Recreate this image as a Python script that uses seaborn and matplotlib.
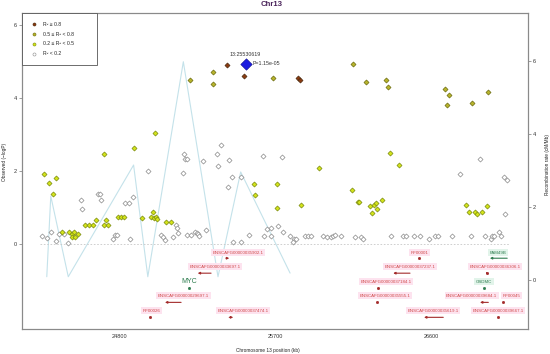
import numpy as np
import pandas as pd
import seaborn as sns
import matplotlib.pyplot as plt
from matplotlib.lines import Line2D

# --- SNP data: position (kb) and observed -log10(P), split by LD (R^2) class ---
pos_r08 = [25425, 25519, 25833, 25844]
logp_r08 = [4.90, 4.61, 4.54, 4.49]

pos_r05 = [25341, 25344, 25210, 25690, 26152, 26227, 26339, 26352,
           26681, 26706, 26690, 26838, 26930]
logp_r05 = [4.70, 4.39, 4.49, 4.54, 4.93, 4.43, 4.50, 4.30,
            4.25, 4.08, 3.82, 3.87, 4.16]

pos_r02 = [24369, 24398, 24434, 24417, 24715, 24885, 25008,
           24472, 24512, 24527, 24540, 24531, 24546, 24562,
           24606, 24627, 24650, 24666, 24715, 24738, 24726,
           24792, 24812, 24829, 24930, 24983, 24994, 25002, 25012, 25018,
           25071, 25097, 25581, 25586, 25713, 25710, 25954, 26363, 26414,
           25852, 26144, 26179, 26186, 26246, 26273, 26281, 26288, 26260, 26316,
           26804, 26817, 26852, 26864, 26896, 26923]
logp_r02 = [1.91, 1.68, 1.82, 1.37, 2.46, 2.64, 3.03,
            0.34, 0.34, 0.27, 0.34, 0.20, 0.20, 0.27,
            0.51, 0.51, 0.51, 0.65, 0.51, 0.51, 0.65,
            0.75, 0.75, 0.75, 0.70, 0.73, 0.87, 0.70, 0.73, 0.68,
            0.59, 0.59, 1.64, 1.34, 1.64, 0.98, 2.07, 2.48, 2.16,
            1.07, 1.49, 1.16, 1.16, 1.05, 1.07, 1.13, 0.96, 0.86, 1.20,
            1.08, 0.88, 0.88, 0.82, 0.88, 1.05]

pos_r00 = [24968, 24578, 24588, 24676, 24690, 24696, 24878, 24836, 24855,
           24356, 24383, 24406, 24438, 24454, 24483, 24503, 24764, 24774, 24786, 24862,
           25172, 25178, 25195, 25168, 25387, 25367, 25436, 25286, 25373, 25632,
           25454, 25502, 25429, 25740,
           25041, 25051, 25065, 25112, 25129, 25135, 25142, 25194, 25217, 25240,
           25248, 25258, 25263, 25300, 25459, 25506, 25552, 25638, 25652, 25675,
           25675, 25719, 25748, 25787, 25810, 25823, 25802, 25871, 25890, 25909,
           25979, 25998, 26021, 26036, 26048, 26079, 26163, 26194, 26209, 26371,
           26437, 26457, 26500, 26537, 26588, 26623, 26639, 26721, 26831, 26912,
           26944, 26954, 26965, 26994, 27004,
           26884, 26766, 27019, 27038, 27027]
logp_r00 = [2.01, 1.21, 0.95, 1.37, 1.37, 1.21, 1.30, 1.12, 1.12,
            0.22, 0.16, 0.34, 0.08, 0.27, 0.28, 0.03, 0.13, 0.25, 0.25, 0.15,
            2.46, 2.34, 2.34, 1.95, 2.71, 2.46, 2.30, 2.28, 2.14, 2.41,
            1.84, 1.84, 1.56, 2.38,
            0.25, 0.20, 0.12, 0.20, 0.52, 0.44, 0.31, 0.25, 0.25, 0.34,
            0.29, 0.27, 0.22, 0.38, 0.06, 0.05, 0.25, 0.22, 0.40, 0.22,
            0.43, 0.49, 0.33, 0.22, 0.14, 0.14, 0.05, 0.22, 0.22, 0.22,
            0.22, 0.20, 0.20, 0.22, 0.24, 0.22, 0.20, 0.20, 0.13, 0.22,
            0.22, 0.22, 0.22, 0.22, 0.14, 0.22, 0.22, 0.22, 0.22, 0.22,
            0.14, 0.22, 0.22, 0.32, 0.22,
            2.32, 1.92, 1.84, 1.75, 0.82]

lead_name = "13:25530619"
lead_pos = 25530.6
lead_p = 1.15e-05

# recombination rate (cM/Mb)
rec_pos = [24383, 24406, 24507, 24884, 24966, 25171, 25371, 25502, 25787]
rec_rate = [0.09, 2.30, 0.09, 3.15, 0.09, 5.98, 0.09, 2.96, 0.19]

# genes: name, start, end (kb), row, strand, label x (kb), known gene?
gene_names = ["ENSCAFG00000035902.1", "ENSCAFG00000033697.1", "MYC",
              "ENSCAFG00000029697.1", "RF00026", "ENSCAFG00000037474.1",
              "RF00001", "ENSCAFG00000037237.1", "ENSCAFG00000037184.1",
              "ENSCAFG00000035555.1", "ENSCAFG00000035619.1", "FAM49B",
              "ENSCAFG00000036306.1", "GSDMC", "ENSCAFG00000039684.1",
              "RF00045", "ENSCAFG00000039667.1"]
gene_start = [25417, 25254, 25205, 25065, 24978, 25436, 26531, 26382, 26295,
              26286, 26560, 26940, 26920, 26905, 26883, 27013, 26987]
gene_end = [25436, 25331, 25207, 25158, 24980, 25459, 26533, 26479, 26297,
            26288, 26671, 27040, 26922, 26907, 26931, 27015, 26989]
gene_row = [0, 1, 2, 3, 4, 4, 0, 1, 2, 3, 4, 0, 1, 2, 3, 3, 4]
gene_strand = ["+", "-", "+", "-", "+", "+", "+", "-", "+", "+", "-", "-",
               "+", "+", "-", "+", "+"]
gene_label_x = [25488, 25354, 25206, 25171, 24990, 25517, 26532, 26479, 26340,
                26335, 26613, 26985, 26969, 26906, 26835, 27065, 26988]
gene_known = ["MYC", "FAM49B", "GSDMC"]

# --- data frames ---
ld_labels = ["R\u00b2 \u2265 0.8", "0.5 \u2264 R\u00b2 < 0.8",
             "0.2 \u2264 R\u00b2 < 0.5", "R\u00b2 < 0.2"]
snp = pd.concat([
    pd.DataFrame({"pos": pos_r08, "logp": logp_r08, "ld": ld_labels[0]}),
    pd.DataFrame({"pos": pos_r05, "logp": logp_r05, "ld": ld_labels[1]}),
    pd.DataFrame({"pos": pos_r02, "logp": logp_r02, "ld": ld_labels[2]}),
    pd.DataFrame({"pos": pos_r00, "logp": logp_r00, "ld": ld_labels[3]}),
])
fills = {ld_labels[0]: "#8b3a0f", ld_labels[1]: "#b8b42a",
         ld_labels[2]: "#d4e418", ld_labels[3]: "white"}
edges = {ld_labels[0]: "#4a2a10", ld_labels[1]: "#6b6b10",
         ld_labels[2]: "#7a8a10", ld_labels[3]: "#8a8a8a"}

genes = pd.DataFrame({"name": gene_names, "start": gene_start, "end": gene_end,
                      "row": gene_row, "strand": gene_strand, "lx": gene_label_x})

# --- plot ---
sns.set_style("white")
plt.rcParams["font.family"] = ["Liberation Sans", "DejaVu Sans"]

fig = plt.figure(figsize=(5.5, 3.54), dpi=100)
ax = fig.add_axes([0.04, 0.0706, 0.92, 0.8927])
ax2 = ax.twinx()
ax.set_zorder(ax2.get_zorder() + 1)
ax.patch.set_visible(False)

sns.lineplot(x=rec_pos, y=rec_rate, ax=ax2, color="#c4e2ea", lw=0.8,
             sort=False, estimator=None)
ax2.set_ylim(-1.342, 7.315)
ax2.set_yticks([0, 2, 4, 6])

ax.plot([24344, 27056], [0, 0], ls=(0, (2, 2)), color="#c8c8c8", lw=0.6)

for lab in ld_labels[::-1]:
    d = snp[snp.ld == lab]
    sns.scatterplot(data=d, x="pos", y="logp", ax=ax, marker="D", s=6.5,
                    color=fills[lab], edgecolor=edges[lab], linewidth=0.5,
                    legend=False, zorder=3)

lead_logp = -np.log10(lead_p)
sns.scatterplot(x=[lead_pos], y=[lead_logp], ax=ax, marker="D", s=34,
                color="#1c1ce0", edgecolor="#10108a", linewidth=0.4, zorder=4)
ax.text(lead_pos, lead_logp + 0.24, lead_name, fontsize=3.8, ha="center",
        va="center", color="#333333")
ax.text(lead_pos + 40, lead_logp, "P=1.15e-05", fontsize=3.8, ha="left",
        va="center", color="#333333")

# genes
row_text = [-0.24, -0.62, -1.03, -1.42, -1.83]
row_mark = [-0.39, -0.80, -1.21, -1.60, -2.01]
for _, g in genes.iterrows():
    known = g["name"] in gene_known
    lc = "#2e7d4f" if known else "#a32a2a"
    tc = "#2e7d4f" if known else "#d04848"
    ym = row_mark[g["row"]]
    if g["end"] - g["start"] > 5:
        a, b = (g["start"], g["end"]) if g["strand"] == "+" else (g["end"], g["start"])
        ax.annotate("", xy=(b, ym), xytext=(a, ym),
                    arrowprops=dict(arrowstyle="-|>", color=lc, lw=0.8,
                                    mutation_scale=3, shrinkA=0, shrinkB=0))
    else:
        ax.plot([g["start"], g["end"]], [ym, ym], color=lc, lw=1.2,
                solid_capstyle="butt")
        ax.plot((g["start"] + g["end"]) / 2, ym, marker="s", ms=1.0, color=lc)
    if g["name"] == "MYC":
        ax.text(g["lx"], row_text[g["row"]], g["name"], fontsize=5, color=tc,
                ha="center", va="center")
    else:
        bg = "#e2f4ea" if known else "#fde3ef"
        ax.text(g["lx"], row_text[g["row"]], g["name"], fontsize=3.2, color=tc,
                ha="center", va="center",
                bbox=dict(boxstyle="square,pad=0.35", fc=bg, ec="none"))

ax.set_xlim(24240, 27160)
ax.set_ylim(-2.33, 6.33)
ax.set_xticks([24800, 25700, 26600])
ax.set_yticks([0, 2, 4, 6])

for a in (ax, ax2):
    a.tick_params(labelsize=4, length=2, width=0.5, color="#777777",
                  labelcolor="#333333", pad=1.5)
    for s in a.spines.values():
        s.set_color("#8a8a8a")
        s.set_linewidth(0.8)

ax.set_xlabel("Chromosome 13 position (kb)", fontsize=3.4, color="#222222")
ax.xaxis.set_label_coords(0.486, -0.06)
ax.set_ylabel("Observed (\u2212logP)", fontsize=3.4, color="#222222")
ax.yaxis.set_label_coords(-0.03, 0.53)
ax2.set_ylabel("Recombination rate (cM/Mb)", fontsize=3.4, color="#222222")
ax2.yaxis.set_label_coords(1.034, 0.52)

fig.text(0.493, 0.986, "Chr13", fontsize=5.6, fontweight="bold",
         color="#4a235a", ha="center", va="center")

handles = [Line2D([], [], marker="o", ls="", ms=2.2, markerfacecolor=fills[l],
                  markeredgecolor=edges[l], markeredgewidth=0.4, label=l)
           for l in ld_labels]
leg = ax.legend(handles=handles, loc="upper left", bbox_to_anchor=(0, 1, 0.148, 0),
                mode="expand", borderaxespad=0, fontsize=3.7, frameon=True,
                fancybox=False, edgecolor="#555555", framealpha=1, borderpad=1.7,
                labelspacing=0.95, handletextpad=1.2, handlelength=1.2)
leg.get_frame().set_linewidth(0.6)

plt.savefig("out.png", dpi=100)
